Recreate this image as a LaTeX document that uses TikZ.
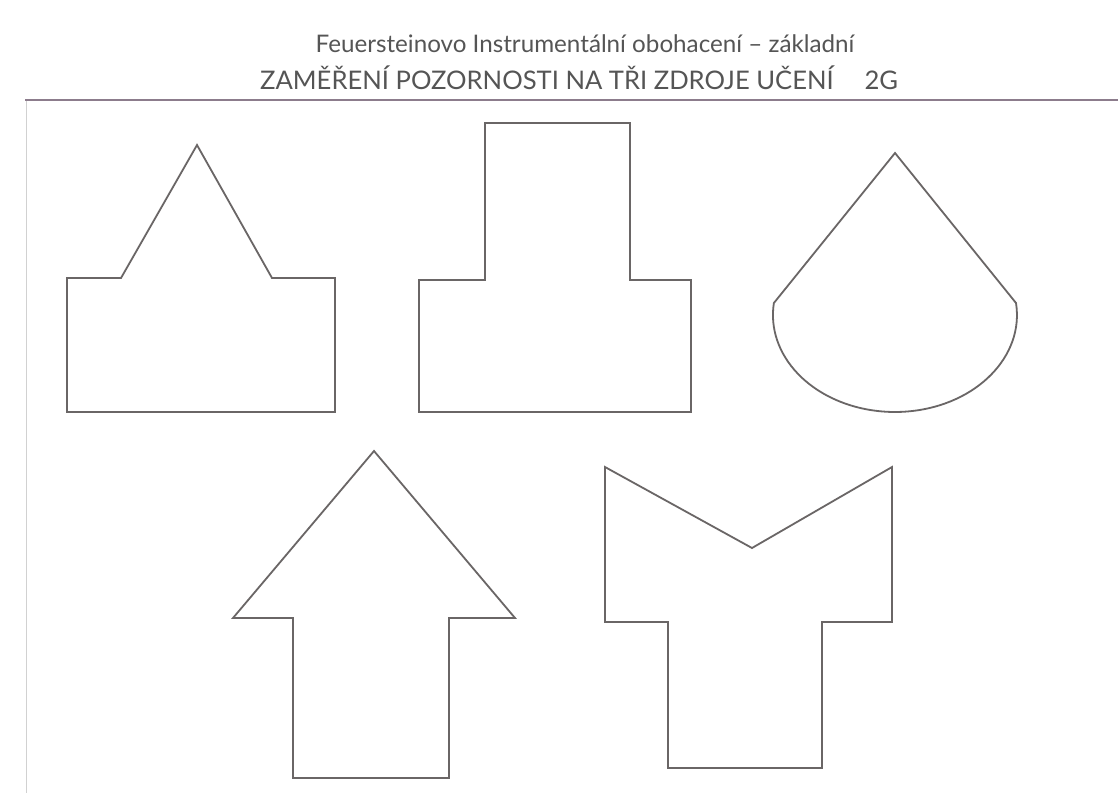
\documentclass[tikz,border=0pt]{standalone}
\usepackage{fontspec}
\setmainfont{Lato}
\definecolor{shapegray}{HTML}{6A6666}
\definecolor{rulegray}{HTML}{8C7C8C}
\definecolor{textgray}{HTML}{555555}
\begin{document}
\begin{tikzpicture}[x=1pt,y=-1pt,
  outline/.style={draw=shapegray,line width=1.8pt,line join=miter},
  headtext/.style={text=textgray,inner sep=0pt,anchor=center}]
\useasboundingbox[fill=white] (0,0) rectangle (1118,793);
% header
\node[headtext,font=\fontsize{24.2}{28}\selectfont] (title1) at (585,44) {Feuersteinovo Instrumentální obohacení – základní};
\node[headtext,font=\fontsize{25.6}{30}\selectfont] (title2) at (579,77.5) {ZAMĚŘENÍ POZORNOSTI NA TŘI ZDROJE UČENÍ\hspace{1.2em}2G};
\draw[rulegray,line width=2.4pt] (25,100) -- (1118,100);
\draw[black!18,line width=0.8pt] (26,101) -- (26,793);
% shape 1
\draw[outline] (67,278) -- (121,278) -- (197,145) -- (272,278) -- (335,278)
  -- (335,412) -- (67,412) -- cycle;
% shape 2
\draw[outline] (485,123) -- (630,123) -- (630,280) -- (691,280) -- (691,412)
  -- (419,412) -- (419,280) -- (485,280) -- cycle;
% shape 3
\draw[outline] (895,153) -- (1016,303) arc[start angle=-7.1,end angle=187.1,x radius=122,y radius=97] -- cycle;
% shape 4
\draw[outline] (374,451) -- (515,618) -- (449,618) -- (449,778) -- (293,778)
  -- (293,618) -- (233,618) -- cycle;
% shape 5
\draw[outline] (605,467) -- (752,548) -- (892,467) -- (892,622) -- (822,622)
  -- (822,768) -- (668,768) -- (668,622) -- (605,622) -- cycle;
\end{tikzpicture}
\end{document}
